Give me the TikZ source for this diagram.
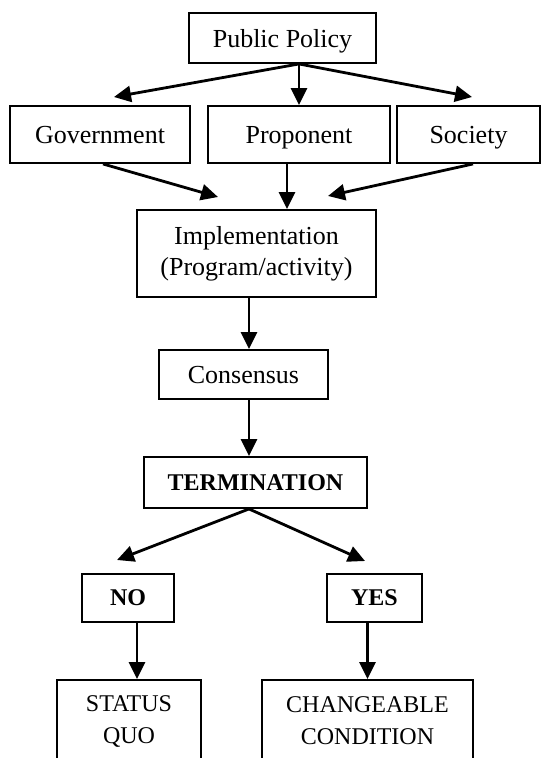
\documentclass[tikz,border=0pt]{standalone}
\usepackage{fontspec}
\setmainfont{Liberation Serif}
\usetikzlibrary{arrows.meta}
\begin{document}
\begin{tikzpicture}[x=1pt,y=-1pt,
  box/.style={draw, line width=1.9pt, inner sep=0pt, align=center},
  one/.style={text height=21pt, text depth=3pt},
  arr/.style={line width=2.8pt, -{Triangle[length=17pt,width=16pt]}},
  big/.style={font=\fontsize{26}{31}\selectfont},
  small/.style={font=\fontsize{24}{32}\selectfont}]
\clip (0,0) rectangle (541,758);
\fill[white] (0,0) rectangle (541,758);
% nodes
\node[box,big,one,minimum width=187pt,minimum height=50pt] (pp) at (282.5,38) {Public Policy};
\node[box,big,one,minimum width=180pt,minimum height=57pt] (gov) at (100,134.5) {Government};
\node[box,big,one,minimum width=182pt,minimum height=57pt] (prop) at (299,134.5) {Proponent};
\node[box,big,one,minimum width=143pt,minimum height=57pt] (soc) at (468.5,134.5) {Society};
\node[box,big,minimum width=239pt,minimum height=87pt] (impl) at (256.5,253.5) {Implementation\\(Program/activity)};
\node[box,big,one,minimum width=169pt,minimum height=49pt] (cons) at (243.5,374.5) {Consensus};
\node[box,small,minimum width=223pt,minimum height=51pt] (term) at (255.5,482.5) {\textbf{TERMINATION}};
\node[box,small,minimum width=92pt,minimum height=48pt] (no) at (128,598) {\textbf{NO}};
\node[box,small,minimum width=95pt,minimum height=48pt] (yes) at (374.5,598) {\textbf{YES}};
\node[box,minimum width=144pt,minimum height=120pt,anchor=north] (status) at (129,679) {};
\node[box,minimum width=211pt,minimum height=120pt,anchor=north] (change) at (367.5,679) {};
\node[small,align=center,inner sep=0pt] (statustxt) at (129,721) {STATUS\\QUO};
\node[small,align=center,inner sep=0pt] (changetxt) at (367.5,721) {CHANGEABLE\\CONDITION};
% coordinates
\coordinate (gtip) at (114,97);
\coordinate (stip) at (472,97);
\coordinate (iltip) at (218,197);
\coordinate (irtip) at (328,196);
\coordinate (spine) at (249,0);
\coordinate (ntip) at (117,560);
\coordinate (ytip) at (365,561);
\coordinate (nx) at (137,0);
\coordinate (mx) at (287,0);
% connectors
\draw[arr] (pp.south -| prop.north) -- (gtip);
\draw[arr] (pp.south -| prop.north) -- (prop.north);
\draw[arr] (pp.south -| prop.north) -- (stip);
\draw[arr] ([xshift=3pt]gov.south) -- (iltip);
\draw[arr] (prop.south -| mx) -- (impl.north -| mx);
\draw[arr] ([xshift=4.5pt]soc.south) -- (irtip);
\draw[arr] (impl.south -| spine) -- (cons.north -| spine);
\draw[arr] (cons.south -| spine) -- (term.north -| spine);
\draw[arr] (term.south -| spine) -- (ntip);
\draw[arr] (term.south -| spine) -- (ytip);
\draw[arr] (no.south -| nx) -- (status.north -| nx);
\draw[arr] (yes.south -| change.north) -- (change.north);
\end{tikzpicture}
\end{document}
